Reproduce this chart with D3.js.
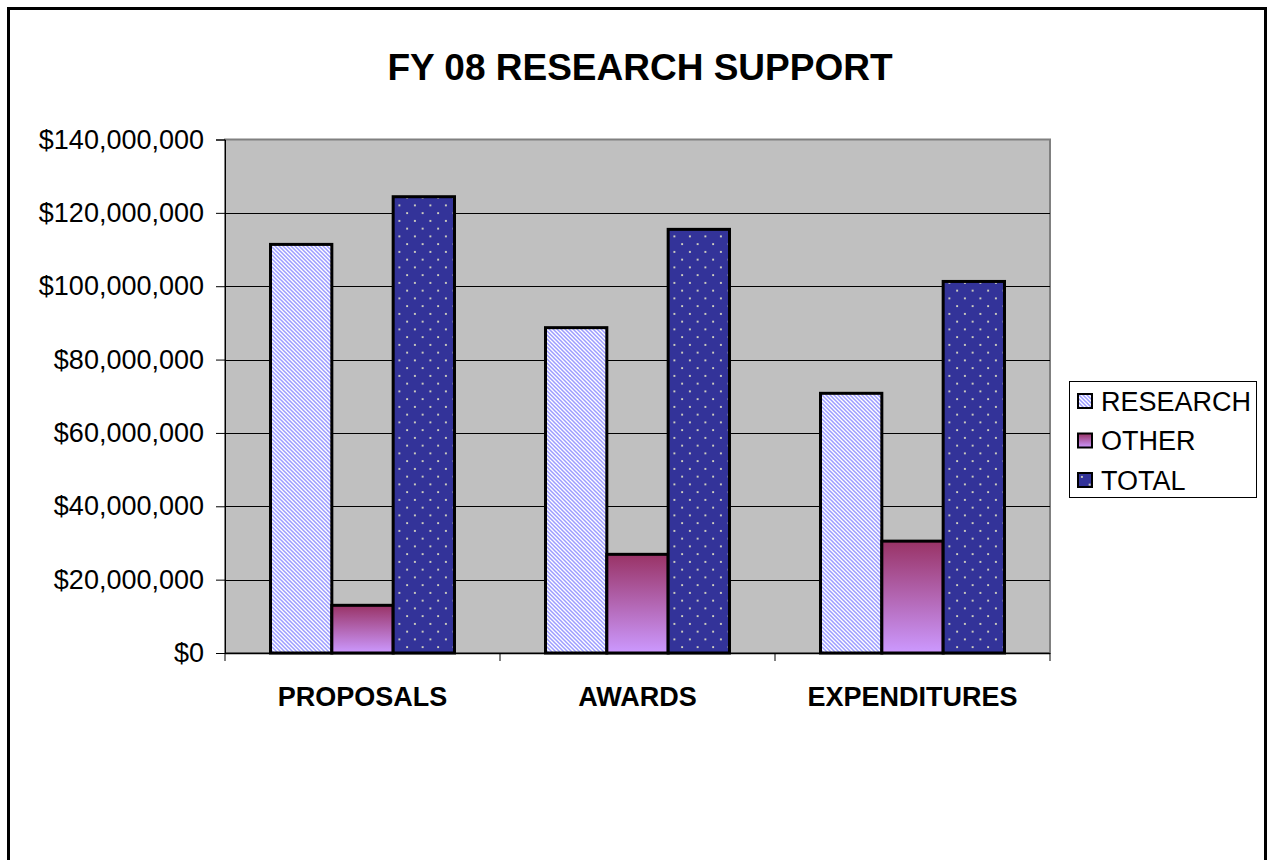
<!DOCTYPE html>
<html>
<head>
<meta charset="utf-8">
<script src="https://cdn.jsdelivr.net/npm/d3@7"></script>
<style>
  html, body { margin: 0; padding: 0; background: #fff; }
  svg { display: block; font-family: Arial, "Liberation Sans", sans-serif; }
</style>
</head>
<body>
<svg id="chart" width="1268" height="860"></svg>
<script>
const title = "FY 08 RESEARCH SUPPORT";
const categories = ["PROPOSALS", "AWARDS", "EXPENDITURES"];
const seriesNames = ["RESEARCH", "OTHER", "TOTAL"];
const researchValues = [111400000, 88700000, 70800000];
const otherValues = [13000000, 26900000, 30500000];
const totalValues = [124400000, 115500000, 101300000];
const yTicks = [0, 20000000, 40000000, 60000000, 80000000, 100000000, 120000000, 140000000];

const seriesValues = [researchValues, otherValues, totalValues];

const svg = d3.select("#chart");
const defs = svg.append("defs");

// Hatch pattern for RESEARCH
const hatch = defs.append("pattern").attr("id", "hatch")
  .attr("patternUnits", "userSpaceOnUse").attr("width", 4).attr("height", 4);
hatch.append("rect").attr("width", 4).attr("height", 4).attr("fill", "#ffffff");
hatch.append("path").attr("d", "M0,0 L4,4 M-1,3 L1,5 M3,-1 L5,1")
  .attr("stroke", "#9c9cff").attr("stroke-width", 1.5);

// Gradient for OTHER
const grad = defs.append("linearGradient").attr("id", "grad")
  .attr("x1", 0).attr("y1", 0).attr("x2", 0).attr("y2", 1);
grad.append("stop").attr("offset", "0%").attr("stop-color", "#993366");
grad.append("stop").attr("offset", "100%").attr("stop-color", "#cc99ff");

// Dotted pattern for TOTAL
const dots = defs.append("pattern").attr("id", "dots")
  .attr("patternUnits", "userSpaceOnUse").attr("width", 15.5).attr("height", 15.5);
dots.append("rect").attr("width", 15.5).attr("height", 15.5).attr("fill", "#333399");
dots.append("rect").attr("x", 3).attr("y", 3).attr("width", 1.8).attr("height", 1.8).attr("fill", "#e4e4c4");
dots.append("rect").attr("x", 10.75).attr("y", 10.75).attr("width", 1.8).attr("height", 1.8).attr("fill", "#e4e4c4");

const fills = ["url(#hatch)", "url(#grad)", "url(#dots)"];

// Outer border
svg.append("rect").attr("x", 8.5).attr("y", 8.5).attr("width", 1257).attr("height", 900)
  .attr("fill", "#fff").attr("stroke", "#000").attr("stroke-width", 3);

// Title
svg.append("text").attr("x", 640).attr("y", 80).attr("text-anchor", "middle")
  .attr("font-size", 37).attr("font-weight", "bold").text(title);

const plot = { left: 225, right: 1050, top: 139.5, bottom: 653 };

const y = d3.scaleLinear().domain([0, 140000000]).range([plot.bottom, plot.top]);
const x0 = d3.scaleBand().domain(categories).range([plot.left, plot.right]).padding(0);
const x1 = d3.scaleBand().domain(seriesNames).range([45.5, x0.bandwidth() - 45.5]).padding(0);

// Plot area
svg.append("rect").attr("x", plot.left).attr("y", plot.top)
  .attr("width", plot.right - plot.left).attr("height", plot.bottom - plot.top)
  .attr("fill", "#c0c0c0").attr("stroke", "#808080").attr("stroke-width", 2);

// Gridlines
svg.append("g").selectAll("line").data(yTicks.filter(d => d > 0 && d < 140000000)).join("line")
  .attr("x1", plot.left).attr("x2", plot.right)
  .attr("y1", d => Math.round(y(d)) + 0.5).attr("y2", d => Math.round(y(d)) + 0.5)
  .attr("stroke", "#000").attr("stroke-width", 1);

// Y axis
const fmt = d => "$" + d3.format(",")(d);
const yAxis = svg.append("g").attr("transform", `translate(${plot.left},0)`)
  .call(d3.axisLeft(y).tickValues(yTicks).tickFormat(fmt).tickSize(9).tickPadding(12));
yAxis.select(".domain").attr("stroke", "#000");
yAxis.selectAll("text").attr("font-size", 27).attr("font-family", "Arial, 'Liberation Sans', sans-serif").attr("fill", "#000");

// Bars
const groups = svg.append("g").selectAll("g").data(categories).join("g")
  .attr("transform", d => `translate(${x0(d)},0)`);
groups.selectAll("rect").data((c, i) => seriesNames.map((s, j) => ({ s, j, v: seriesValues[j][i] })))
  .join("rect")
  .attr("x", d => x1(d.s)).attr("width", x1.bandwidth())
  .attr("y", d => y(d.v)).attr("height", d => y(0) - y(d.v))
  .attr("fill", d => fills[d.j]).attr("stroke", "#000").attr("stroke-width", 3);

// X axis
const xAxis = svg.append("g").attr("transform", `translate(0,${plot.bottom})`);
xAxis.append("line").attr("x1", plot.left).attr("x2", plot.right).attr("y1", 0.5).attr("y2", 0.5)
  .attr("stroke", "#000").attr("stroke-width", 1.5);
xAxis.selectAll("line.tick").data([0, 1, 2, 3]).join("line").attr("class", "tick")
  .attr("x1", i => plot.left + i * x0.bandwidth()).attr("x2", i => plot.left + i * x0.bandwidth())
  .attr("y1", 0).attr("y2", 8).attr("stroke", "#000");
xAxis.selectAll("text").data(categories).join("text")
  .attr("x", d => x0(d) + x0.bandwidth() / 2).attr("y", 53)
  .attr("text-anchor", "middle").attr("font-size", 27).attr("font-weight", "bold").text(d => d);

// Legend
const legend = svg.append("g");
legend.append("rect").attr("x", 1069.5).attr("y", 381.5).attr("width", 187).attr("height", 116)
  .attr("fill", "#fff").attr("stroke", "#000").attr("stroke-width", 1);
const li = legend.selectAll("g").data(seriesNames).join("g")
  .attr("transform", (d, i) => `translate(1078,${394 + i * 39.5})`);
li.append("rect").attr("width", 14).attr("height", 14)
  .attr("fill", (d, i) => fills[i]).attr("stroke", "#000").attr("stroke-width", 2);
li.append("text").attr("x", 23).attr("y", 16.5).attr("font-size", 27).text(d => d);
</script>
</body>
</html>
